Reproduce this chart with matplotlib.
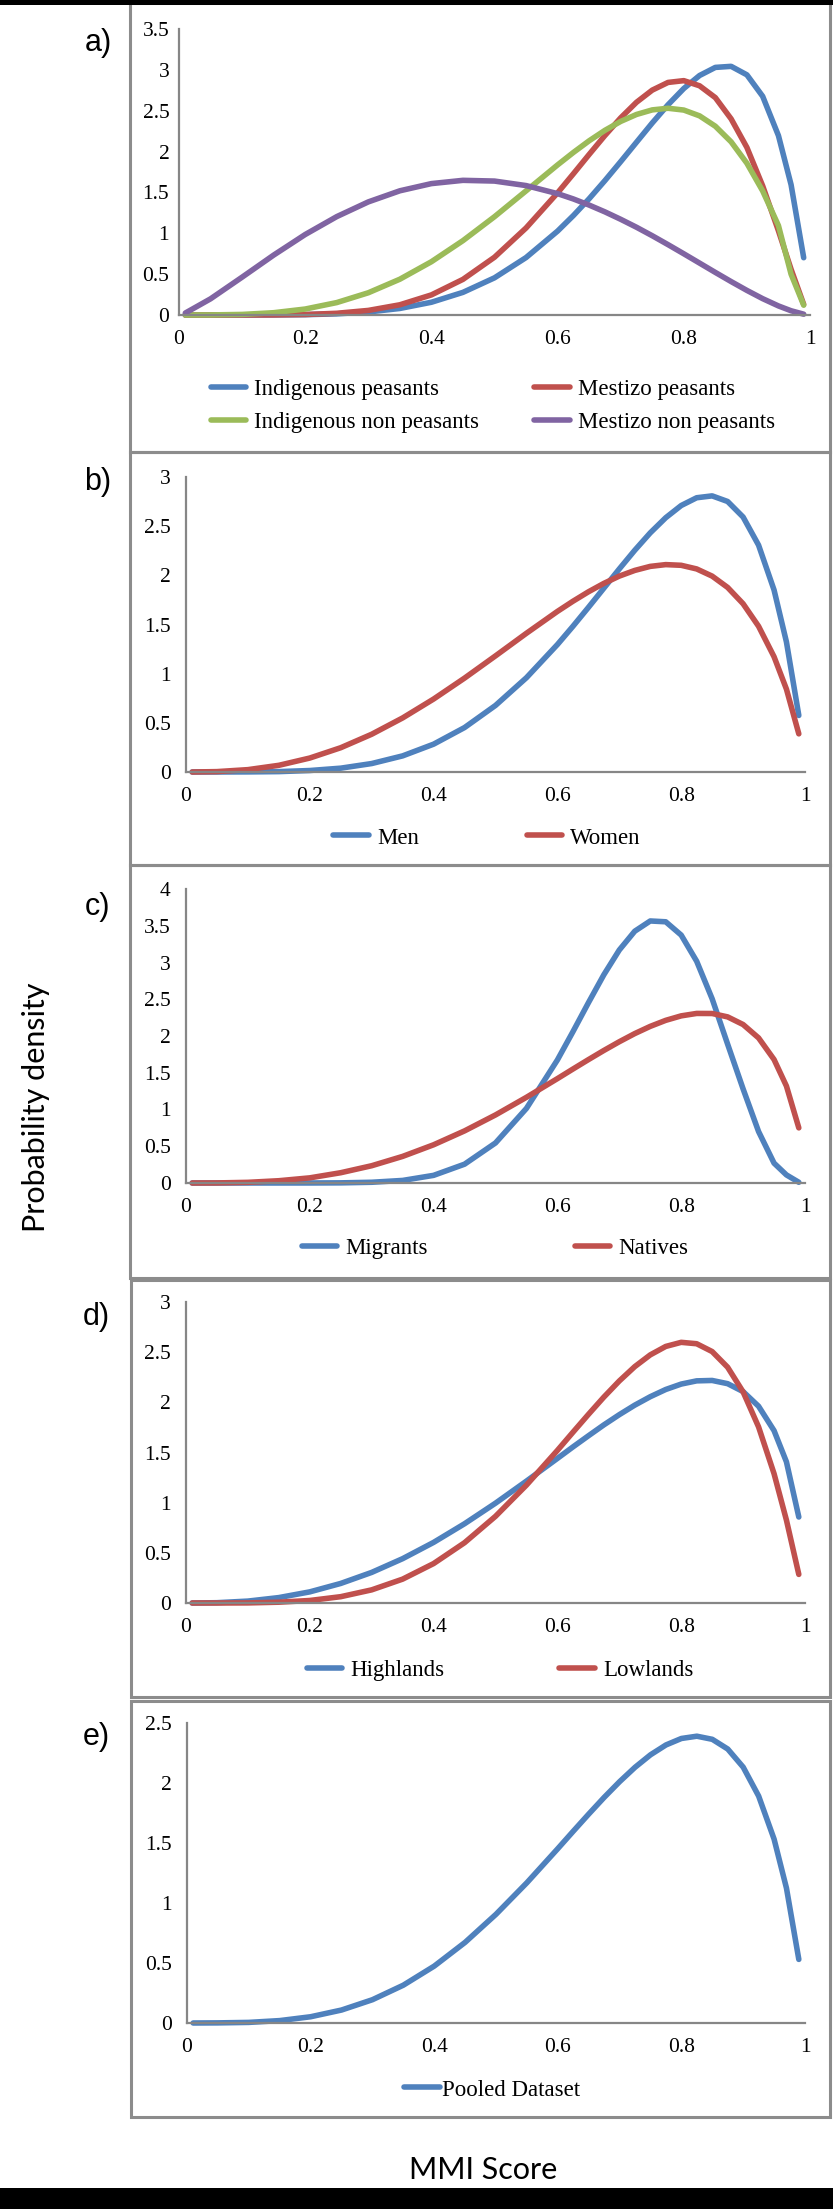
import matplotlib.pyplot as plt
from matplotlib.patches import Rectangle
from matplotlib.ticker import FuncFormatter

# MMI score grid (x) shared by every curve
mmi = [0.01, 0.05, 0.10, 0.15, 0.20, 0.25, 0.30, 0.35, 0.40, 0.45, 0.50, 0.55, 0.60,
       0.625, 0.65, 0.675, 0.70, 0.725, 0.75, 0.775, 0.80, 0.825, 0.85, 0.875, 0.90,
       0.925, 0.95, 0.97, 0.99]

# a) ethnicity x occupation
indig_peasants = [0.0, 0.0, 0.0, 0.001, 0.004, 0.014, 0.037, 0.08, 0.156, 0.277, 0.455, 0.703, 1.027,
                  1.217, 1.423, 1.645, 1.877, 2.114, 2.35, 2.573, 2.772, 2.931, 3.03, 3.043, 2.939,
                  2.676, 2.195, 1.595, 0.701]
mest_peasants = [0.0, 0.0, 0.0, 0.001, 0.006, 0.021, 0.056, 0.125, 0.246, 0.436, 0.707, 1.065, 1.495,
                 1.728, 1.965, 2.197, 2.413, 2.603, 2.752, 2.846, 2.868, 2.805, 2.66, 2.40, 2.05,
                 1.58, 1.03, 0.56, 0.13]
indig_non = [0.0, 0.001, 0.007, 0.028, 0.073, 0.152, 0.272, 0.438, 0.652, 0.91, 1.203, 1.519, 1.837,
             1.989, 2.132, 2.26, 2.369, 2.454, 2.51, 2.53, 2.508, 2.437, 2.31, 2.119, 1.857,
             1.518, 1.094, 0.5, 0.12]
mest_non = [0.024, 0.198, 0.463, 0.733, 0.985, 1.204, 1.384, 1.52, 1.608, 1.648, 1.639, 1.584, 1.485,
            1.42, 1.345, 1.262, 1.171, 1.074, 0.97, 0.861, 0.749, 0.635, 0.521, 0.409, 0.301,
            0.2, 0.111, 0.052, 0.01]

# b) gender
men = [0.0, 0.0, 0.001, 0.004, 0.015, 0.039, 0.086, 0.164, 0.283, 0.452, 0.677, 0.959, 1.296,
       1.481, 1.673, 1.869, 2.065, 2.255, 2.432, 2.586, 2.71, 2.789, 2.808, 2.751, 2.593,
       2.307, 1.851, 1.323, 0.575]
women = [0.0, 0.004, 0.024, 0.068, 0.142, 0.247, 0.384, 0.55, 0.742, 0.955, 1.181, 1.411, 1.633,
         1.736, 1.832, 1.918, 1.992, 2.05, 2.091, 2.109, 2.102, 2.065, 1.992, 1.877, 1.711,
         1.482, 1.172, 0.843, 0.388]

# c) origin
migrants = [0.0, 0.0, 0.0, 0.0, 0.0003, 0.002, 0.01, 0.035, 0.104, 0.256, 0.545, 1.015, 1.674,
            2.057, 2.451, 2.833, 3.17, 3.426, 3.565, 3.554, 3.373, 3.017, 2.506, 1.889, 1.28,
            0.7, 0.27, 0.11, 0.01]
natives = [0.0, 0.001, 0.009, 0.031, 0.07, 0.14, 0.235, 0.362, 0.52, 0.709, 0.926, 1.166, 1.42,
           1.55, 1.678, 1.803, 1.922, 2.033, 2.131, 2.213, 2.274, 2.307, 2.306, 2.26, 2.156,
           1.974, 1.68, 1.319, 0.75]

# d) region
highlands = [0.0, 0.003, 0.019, 0.054, 0.111, 0.195, 0.305, 0.442, 0.604, 0.79, 0.995, 1.215, 1.441,
             1.555, 1.666, 1.775, 1.877, 1.972, 2.056, 2.128, 2.182, 2.214, 2.218, 2.186, 2.107,
             1.961, 1.718, 1.407, 0.857]
lowlands = [0.0, 0.0, 0.001, 0.008, 0.025, 0.063, 0.131, 0.238, 0.393, 0.601, 0.864, 1.175, 1.521,
            1.701, 1.879, 2.052, 2.213, 2.356, 2.473, 2.557, 2.598, 2.584, 2.506, 2.35, 2.104,
            1.755, 1.289, 0.826, 0.285]

# e) everything
pooled = [0.0, 0.001, 0.005, 0.02, 0.052, 0.108, 0.194, 0.315, 0.474, 0.672, 0.906, 1.169, 1.453,
          1.598, 1.741, 1.88, 2.011, 2.131, 2.235, 2.317, 2.371, 2.39, 2.364, 2.283, 2.132,
          1.891, 1.532, 1.124, 0.53]

x_ticks = [0, 0.2, 0.4, 0.6, 0.8, 1]

BLUE, RED, GREEN, PURPLE = "#4F81BD", "#C0504D", "#9BBB59", "#8064A2"
GRAY = "#868686"
SERIF = "Liberation Serif"

W, H = 833, 2209
fig = plt.figure(figsize=(W / 100, H / 100), dpi=100)


def fx(px):
    return px / W


def fy(py):
    return 1 - py / H


# panel layout in pixels: axis left/right, y of zero line, y of top tick, ymax,
# frame top/bottom, label centre, legend centre, legend spacing
panels = [
    dict(tag="a)", left=179, right=810, y0=315, ytop=29, ymax=3.5, ypad=7,
         frame=(3, 452, 130), label=(98, 43), leg=(493, 406), colsp=2.4, htp=0.36,
         series=[(indig_peasants, BLUE, "Indigenous peasants"),
                 (mest_peasants, RED, "Mestizo peasants"),
                 (indig_non, GREEN, "Indigenous non peasants"),
                 (mest_non, PURPLE, "Mestizo non peasants")],
         order=[0, 2, 1, 3]),
    dict(tag="b)", left=186, right=805, y0=772, ytop=477, ymax=3.0, ypad=11,
         frame=(452, 865, 130), label=(98, 482), leg=(487, 838), colsp=4.7, htp=0.36,
         series=[(men, BLUE, "Men"), (women, RED, "Women")], order=[0, 1]),
    dict(tag="c)", left=186, right=805, y0=1183, ytop=889, ymax=4.0, ypad=11,
         frame=(865, 1278, 130), label=(97, 907), leg=(495, 1248), colsp=6.4, htp=0.36,
         series=[(migrants, BLUE, "Migrants"), (natives, RED, "Natives")], order=[0, 1]),
    dict(tag="d)", left=186, right=805, y0=1603, ytop=1302, ymax=3.0, ypad=11,
         frame=(1280, 1697, 131), label=(96, 1317), leg=(500, 1670), colsp=5.0, htp=0.36,
         series=[(highlands, BLUE, "Highlands"), (lowlands, RED, "Lowlands")], order=[0, 1]),
    dict(tag="e)", left=187, right=805, y0=2023, ytop=1723, ymax=2.5, ypad=11,
         frame=(1701, 2117, 131), label=(96, 1737), leg=(492, 2090), colsp=2.0, htp=0.1,
         series=[(pooled, BLUE, "Pooled Dataset")], order=[0]),
]

fmt = FuncFormatter(lambda v, p: f"{v:g}")

for p in panels:
    top, bottom, fleft = p["frame"]
    fig.add_artist(Rectangle((fx(fleft), fy(bottom)), (830 - fleft) / W, (bottom - top) / H,
                             transform=fig.transFigure, fill=False, ec="#8c8c8c", lw=2.2,
                             zorder=0))

    ax = fig.add_axes([fx(p["left"]), fy(p["y0"]), (p["right"] - p["left"]) / W,
                       (p["y0"] - p["ytop"]) / H])
    ax.patch.set_alpha(0)
    lines = []
    for vals, col, name in p["series"]:
        ln, = ax.plot(mmi, vals, color=col, lw=4.0, label=name, clip_on=False,
                      solid_capstyle="round", solid_joinstyle="round")
        lines.append(ln)

    ax.set_xlim(0, 1)
    ax.set_ylim(0, p["ymax"])
    ax.set_xticks(x_ticks)
    n = int(round(p["ymax"] / 0.5))
    ax.set_yticks([0.5 * i for i in range(n + 1)])
    ax.xaxis.set_major_formatter(fmt)
    ax.yaxis.set_major_formatter(fmt)
    for s in ("top", "right"):
        ax.spines[s].set_visible(False)
    for s in ("left", "bottom"):
        ax.spines[s].set_color(GRAY)
        ax.spines[s].set_linewidth(1.6)
    ax.tick_params(axis="x", length=0, pad=11, labelsize=15.5)
    ax.tick_params(axis="y", length=0, pad=p["ypad"], labelsize=15.5)
    for t in ax.get_xticklabels() + ax.get_yticklabels():
        t.set_family(SERIF)

    hs = [lines[i] for i in p["order"]]
    ax.legend(hs, [h.get_label() for h in hs], loc="center",
              bbox_to_anchor=(fx(p["leg"][0]), fy(p["leg"][1])), bbox_transform=fig.transFigure,
              ncol=2 if len(hs) > 1 else 1, frameon=False, prop={"family": SERIF, "size": 16.5},
              handlelength=1.55, handletextpad=p["htp"], columnspacing=p["colsp"],
              labelspacing=0.55, borderpad=0, borderaxespad=0)

    fig.text(fx(p["label"][0]), fy(p["label"][1]), p["tag"], ha="center", va="center",
             fontsize=22, family="Liberation Sans")

fig.text(fx(36), fy(1107), "Probability density", rotation=90, ha="center", va="center",
         fontsize=22, family="Lato")
fig.text(fx(483), fy(2170), "MMI Score", ha="center", va="center", fontsize=22, family="Lato")

# black bands at the top and bottom of the scan
fig.add_artist(Rectangle((0, fy(5)), 1, 5 / H, transform=fig.transFigure, fc="black",
                         ec="none", zorder=20))
fig.add_artist(Rectangle((0, 0), 1, 21 / H, transform=fig.transFigure, fc="black",
                         ec="none", zorder=20))

fig.savefig("out.png", dpi=100)
